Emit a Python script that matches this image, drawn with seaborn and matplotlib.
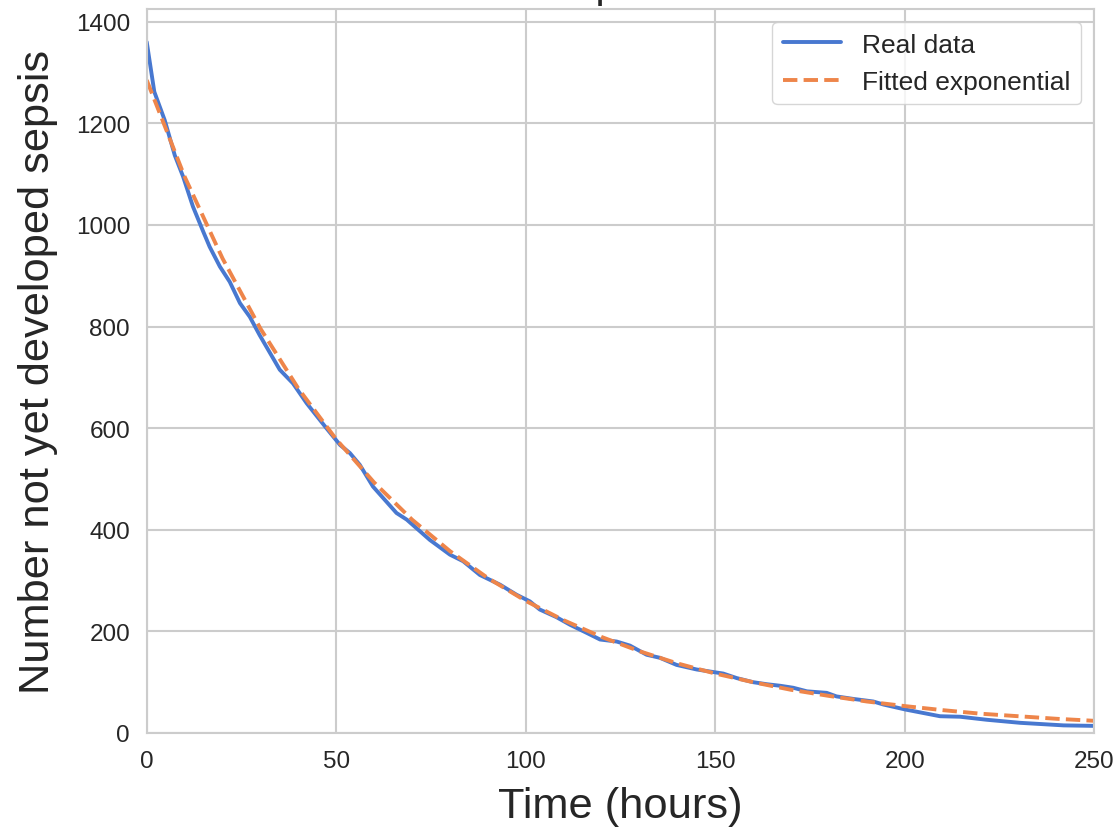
import seaborn as sns
import matplotlib.pyplot as plt
import pandas as pd

# real data (hours, count not yet developed sepsis)
hours = [0, 2, 4.75, 7.4, 9.6, 12.2, 14.9, 16.6, 19.3, 21.9, 24.6, 27.2, 29.8,
         35.1, 38.6, 42.2, 47.4, 51, 53.6, 56.2, 59.7, 65.9, 68.6, 74.7, 80,
         83.5, 87.9, 93.2, 97.6, 101.1, 103.7, 108.1, 111.7, 116.1, 119.6, 124,
         127.5, 131.9, 135.4, 139.8, 145.1, 148.6, 152.1, 155.7, 160, 163.6,
         167.1, 170.6, 174.2, 179.4, 182, 186.5, 191.7, 194.4, 200.3, 209.3,
         214.6, 221.7, 230.5, 241.9, 250]
counts = [1360, 1262, 1206, 1137, 1095, 1036, 987, 957, 918, 888, 846, 819, 783,
          715, 688, 649, 600, 567, 551, 528, 485, 433, 420, 380, 351,
          338, 311, 292, 272, 259, 243, 228, 213, 197, 184, 180,
          172, 154, 148, 134, 125, 121, 117, 108, 100, 96,
          93, 89, 82, 79, 72, 67, 62, 56, 46, 33,
          32, 26, 20, 15, 14]

# fitted exponential, read every 10 hours
fit_hours = [0, 10, 20, 30, 40, 50, 60, 70, 80, 90, 100, 110, 120, 130, 140,
             150, 160, 170, 180, 190, 200, 210, 220, 230, 240, 250]
fit_counts = [1285, 1095, 934, 796, 678, 578, 493, 420, 358, 305, 260, 222, 189,
              161, 137, 117, 100, 85, 73, 62, 53, 45, 38, 33, 28, 24]

real = pd.DataFrame({'hours': hours, 'count': counts})
fit = pd.DataFrame({'hours': fit_hours, 'count': fit_counts})

sns.set_theme(style='whitegrid')
plt.rcParams['font.family'] = ['Liberation Sans', 'DejaVu Sans']
pal = sns.color_palette('muted')

fig = plt.figure(figsize=(11.2, 8.29), dpi=100)
ax = fig.add_axes([0.131, 0.1146, 0.846, 0.8734])

sns.lineplot(data=real, x='hours', y='count', ax=ax, color=pal[0],
             linewidth=2.8, label='Real data')
sns.lineplot(data=fit, x='hours', y='count', ax=ax, color=pal[1],
             linewidth=2.8, linestyle='--', label='Fitted exponential')

ax.set_xlim(0, 250)
ax.set_ylim(0, 1425)
ax.set_xticks([0, 50, 100, 150, 200, 250])
ax.set_yticks([0, 200, 400, 600, 800, 1000, 1200, 1400])
ax.tick_params(labelsize=17.5, pad=6)
for s in ax.spines.values():
    s.set_color('0.8')
    s.set_linewidth(1.5)
ax.grid(linewidth=1.5, color='0.8')
ax.set_xlabel('Time (hours)', fontsize=31.2, labelpad=10)
ax.set_ylabel('Number not yet developed sepsis', fontsize=31.2, labelpad=13)

leg = ax.legend(loc='upper right', fontsize=19, frameon=True, handlelength=2.2)
leg.get_frame().set_edgecolor('0.8')

# title sits mostly above the canvas in the original
fig.text(0.529, 1 + 3 / 829, 'Time to sepsis onset', fontsize=30,
         ha='center', va='baseline', color='0.15')

fig.savefig('out.png', dpi=100)
